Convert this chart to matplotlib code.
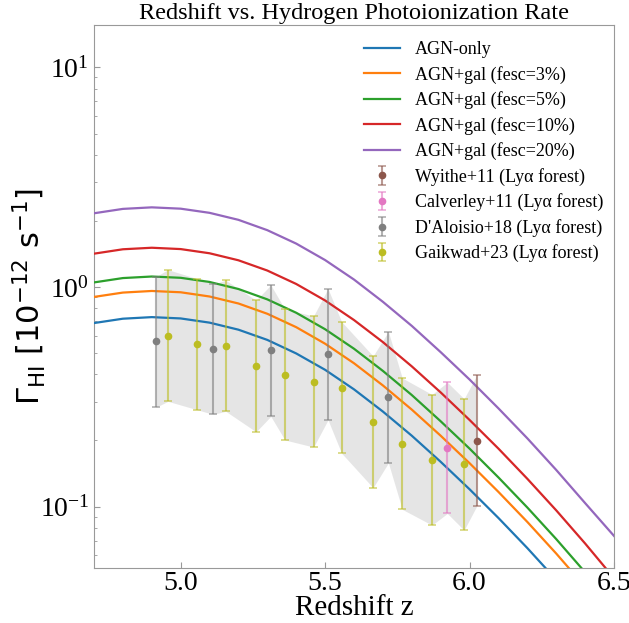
import numpy as np
import matplotlib
matplotlib.use("Agg")
import matplotlib.pyplot as plt

plt.rcParams['font.family'] = ['Liberation Serif', 'DejaVu Sans']
plt.rcParams['mathtext.fontset'] = 'dejavusans'

# ---- model curves ----
z_model = [4.7, 4.8, 4.9, 5.0, 5.1, 5.2, 5.3, 5.4, 5.5, 5.6, 5.7, 5.8, 5.9, 6.0, 6.1, 6.2, 6.3, 6.4, 6.5]
gamma_agn = [0.685, 0.717, 0.729, 0.719, 0.688, 0.639, 0.574, 0.498, 0.4195, 0.3418, 0.2708, 0.2102, 0.1599, 0.1199, 0.0887, 0.0647, 0.0464, 0.0328, 0.0228]
gamma_f3 = [0.901, 0.943, 0.959, 0.946, 0.905, 0.841, 0.755, 0.656, 0.5515, 0.4494, 0.3561, 0.2764, 0.2102, 0.1576, 0.1166, 0.0851, 0.0611, 0.0431, 0.0300]
gamma_f5 = [1.049, 1.098, 1.116, 1.101, 1.054, 0.979, 0.878, 0.763, 0.642, 0.5233, 0.4147, 0.322, 0.2446, 0.1836, 0.1357, 0.0990, 0.0711, 0.0502, 0.0349]
gamma_f10 = [1.418, 1.485, 1.509, 1.488, 1.424, 1.323, 1.188, 1.032, 0.868, 0.707, 0.561, 0.435, 0.331, 0.248, 0.1836, 0.1338, 0.0961, 0.0679, 0.0472]
gamma_f20 = [2.166, 2.268, 2.305, 2.273, 2.176, 2.022, 1.814, 1.576, 1.326, 1.081, 0.856, 0.665, 0.505, 0.379, 0.280, 0.2045, 0.1468, 0.1037, 0.0735]
model_labels = ['AGN-only', 'AGN+gal (fesc=3%)', 'AGN+gal (fesc=5%)', 'AGN+gal (fesc=10%)', 'AGN+gal (fesc=20%)']
model_colors = ['tab:blue', 'tab:orange', 'tab:green', 'tab:red', 'tab:purple']

# ---- observations (value, lower bound, upper bound) ----
wyithe_z = [6.025]
wyithe_g = [0.199]
wyithe_lo = [0.1005]
wyithe_hi = [0.396]

calverley_z = [5.923]
calverley_g = [0.185]
calverley_lo = [0.093]
calverley_hi = [0.368]

daloisio_z = [4.914, 5.112, 5.312, 5.51, 5.719]
daloisio_g = [0.566, 0.520, 0.515, 0.494, 0.315]
daloisio_lo = [0.283, 0.263, 0.2575, 0.248, 0.158]
daloisio_hi = [1.114, 1.029, 1.021, 0.982, 0.626]

gaikwad_z = [4.956, 5.057, 5.156, 5.261, 5.361, 5.460, 5.557, 5.666, 5.767, 5.870, 5.981]
gaikwad_g = [0.600, 0.550, 0.5385, 0.4366, 0.3985, 0.3703, 0.3477, 0.2427, 0.1932, 0.1633, 0.1557]
gaikwad_lo = [0.3014, 0.276, 0.2715, 0.219, 0.201, 0.1866, 0.175, 0.1218, 0.0971, 0.0823, 0.0781]
gaikwad_hi = [1.199, 1.091, 1.073, 0.870, 0.791, 0.738, 0.695, 0.485, 0.385, 0.3238, 0.3098]

fig = plt.figure(figsize=(6.29, 6.23), dpi=100)
ax = fig.add_axes([94/629, 55/623, 520/629, 543/623])

# shaded band over all observations
all_z = np.array(wyithe_z + calverley_z + daloisio_z + gaikwad_z)
all_lo = np.array(wyithe_lo + calverley_lo + daloisio_lo + gaikwad_lo)
all_hi = np.array(wyithe_hi + calverley_hi + daloisio_hi + gaikwad_hi)
order = np.argsort(all_z)
ax.fill_between(all_z[order], all_lo[order], all_hi[order], color='gray', alpha=0.2, linewidth=0, zorder=1)

for g, lab, col in zip([gamma_agn, gamma_f3, gamma_f5, gamma_f10, gamma_f20], model_labels, model_colors):
    ax.plot(z_model, g, color=col, lw=1.6, label=lab, zorder=3)

obs = [
    (wyithe_z, wyithe_g, wyithe_lo, wyithe_hi, 'tab:brown', 'Wyithe+11 (Lyα forest)'),
    (calverley_z, calverley_g, calverley_lo, calverley_hi, 'tab:pink', 'Calverley+11 (Lyα forest)'),
    (daloisio_z, daloisio_g, daloisio_lo, daloisio_hi, 'tab:gray', "D'Aloisio+18 (Lyα forest)"),
    (gaikwad_z, gaikwad_g, gaikwad_lo, gaikwad_hi, 'tab:olive', 'Gaikwad+23 (Lyα forest)'),
]
for zz, gg, lo, hi, col, lab in obs:
    gg = np.array(gg); lo = np.array(lo); hi = np.array(hi)
    eb = ax.errorbar(zz, gg, yerr=[gg - lo, hi - gg], fmt='o', color=col, ms=4.5,
                     elinewidth=1.5, capsize=3, capthick=1.2, label=lab, zorder=4)
    for c in eb[1]:
        c.set_alpha(0.6)
    for b in eb[2]:
        b.set_alpha(0.6)

ax.set_yscale('log')
ax.set_xlim(4.7, 6.5)
ax.set_ylim(0.0525, 15.6)
ax.set_xticks([5.0, 5.5, 6.0, 6.5])
ax.set_xticklabels(['5.0', '5.5', '6.0', '6.5'])

for s in ax.spines.values():
    s.set_color('#999999')
ax.tick_params(axis='both', which='both', direction='in', colors='#999999', labelcolor='black', labelsize=20)
ax.tick_params(which='major', length=4)
ax.tick_params(which='minor', length=2.5)
ax.tick_params(axis='x', pad=2.5)

ax.set_xlabel('Redshift z', fontsize=21, labelpad=-1)
ax.set_ylabel(r'$\Gamma_{\rm HI}\ [10^{-12}\ {\rm s}^{-1}]$', fontsize=22, labelpad=-6)
ax.set_title('Redshift vs. Hydrogen Photoionization Rate', fontsize=17.5, pad=4)

ax.legend(loc='upper right', bbox_to_anchor=(1.0, 0.99), frameon=False, fontsize=13,
          labelspacing=0.42, borderaxespad=0.2)

fig.savefig('out.png', dpi=100)
